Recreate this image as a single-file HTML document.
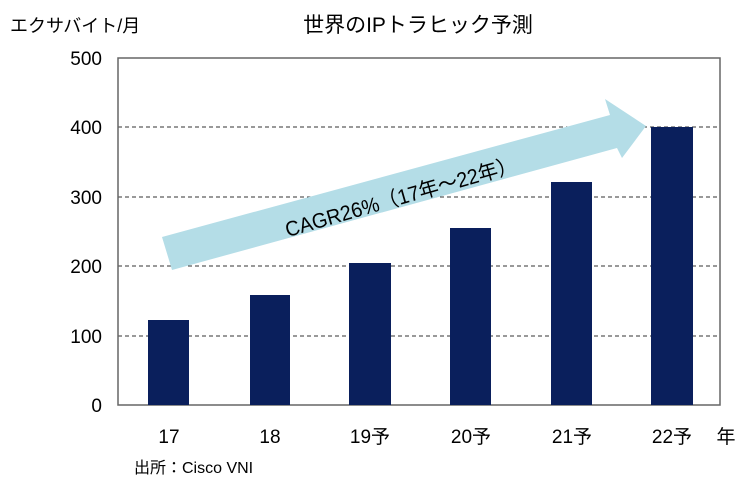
<!DOCTYPE html>
<html><head><meta charset="utf-8"><style>
body{margin:0;background:#fff;}
svg text{font-family:"Liberation Sans","Noto Sans CJK JP",sans-serif;fill:#000;}
</style></head><body>
<svg width="750" height="490" viewBox="0 0 750 490" xmlns="http://www.w3.org/2000/svg">
<rect width="750" height="490" fill="#fff"/>
<text x="10" y="32" font-size="18">エクサバイト/月</text>
<text x="418" y="32" font-size="21" text-anchor="middle">世界のIPトラヒック予測</text>
<g stroke="#333" stroke-width="1" stroke-dasharray="4,3">
<line x1="118" y1="127" x2="720" y2="127"/>
<line x1="118" y1="197" x2="720" y2="197"/>
<line x1="118" y1="266" x2="720" y2="266"/>
<line x1="118" y1="336" x2="720" y2="336"/>
</g>
<rect x="118" y="58" width="602" height="347" fill="none" stroke="#666" stroke-width="1.5"/>
<g font-size="19" text-anchor="end">
<text x="102" y="65">500</text>
<text x="102" y="134">400</text>
<text x="102" y="204">300</text>
<text x="102" y="273">200</text>
<text x="102" y="343">100</text>
<text x="102" y="412">0</text>
</g>
<g fill="#0a1f5c">
<rect x="148" y="320" width="41" height="85"/>
<rect x="250" y="295" width="40" height="110"/>
<rect x="349" y="263" width="42" height="142"/>
<rect x="450" y="228" width="41" height="177"/>
<rect x="551" y="182" width="41" height="223"/>
<rect x="651" y="127" width="42" height="278"/>
</g>
<polygon points="162,237 610,115 605,99 646,126 622,158 617,148 172,270" fill="#b4dde7"/>
<text x="0" y="0" font-size="21" transform="translate(403,204) rotate(-16)" text-anchor="middle" textLength="240" lengthAdjust="spacingAndGlyphs">CAGR26%（17年～22年）</text>
<g font-size="19" text-anchor="middle">
<text x="169" y="443">17</text>
<text x="270" y="443">18</text>
<text x="370" y="443">19予</text>
<text x="471" y="443">20予</text>
<text x="572" y="443">21予</text>
<text x="672" y="443">22予</text>
<text x="726" y="443">年</text>
</g>
<text x="134" y="473" font-size="16">出所：Cisco VNI</text>
</svg>
</body></html>
